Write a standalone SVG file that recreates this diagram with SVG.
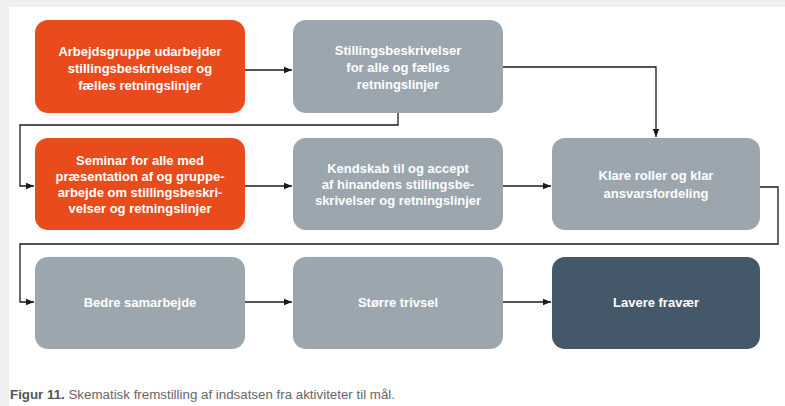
<svg xmlns="http://www.w3.org/2000/svg" width="785" height="406" viewBox="0 0 785 406">
  <defs>
    <marker id="ah" viewBox="0 0 10 10" refX="10" refY="5" markerWidth="8" markerHeight="8" markerUnits="userSpaceOnUse" orient="auto">
      <path d="M0,1 L10,5 L0,9 Z" fill="#1a1a1a"/>
    </marker>
    <style>
      .orange { fill: #ea4b1d; }
      .gray { fill: #9ba6af; }
      .dark { fill: #455869; }
      .t { font-family: "Liberation Sans", Arial, sans-serif; font-weight: bold; font-size: 13px; fill: #ffffff; text-anchor: middle; }
      .c { fill: none; stroke: #1a1a1a; stroke-width: 1.3; marker-end: url(#ah); }
      .cap { font-family: "Liberation Sans", Arial, sans-serif; font-size: 12.5px; fill: #666; }
    </style>
  </defs>
  <rect x="0" y="0" width="785" height="406" fill="#f1f0ee"/>
  <rect x="9" y="7" width="776" height="399" fill="#ffffff"/>

  <g id="connectors">
    <path class="c" d="M245,70 H292"/>
    <path class="c" d="M503,67 H656 V137"/>
    <path class="c" d="M398,113 V125 H20 V186 H34"/>
    <path class="c" d="M245,186 H292"/>
    <path class="c" d="M503,186 H551"/>
    <path class="c" d="M760,187 H778 V244 H20 V302 H34"/>
    <path class="c" d="M245,302 H292"/>
    <path class="c" d="M503,302 H551"/>
  </g>

  <g id="n1">
    <rect class="orange" x="35" y="20" width="210" height="93" rx="13"/>
    <text class="t" x="140" y="56">Arbejdsgruppe udarbejder</text>
    <text class="t" x="140" y="73">stillingsbeskrivelser og</text>
    <text class="t" x="140" y="90">fælles retningslinjer</text>
  </g>
  <g id="n2">
    <rect class="gray" x="293" y="20" width="210" height="93" rx="13"/>
    <text class="t" x="398" y="55">Stillingsbeskrivelser</text>
    <text class="t" x="398" y="72">for alle og fælles</text>
    <text class="t" x="398" y="89">retningslinjer</text>
  </g>
  <g id="n3">
    <rect class="orange" x="35" y="138" width="210" height="92" rx="13"/>
    <text class="t" x="140" y="165">Seminar for alle med</text>
    <text class="t" x="140" y="181">præsentation af og gruppe-</text>
    <text class="t" x="140" y="197">arbejde om stillingsbeskri-</text>
    <text class="t" x="140" y="213">velser og retningslinjer</text>
  </g>
  <g id="n4">
    <rect class="gray" x="293" y="138" width="210" height="92" rx="13"/>
    <text class="t" x="398" y="173">Kendskab til og accept</text>
    <text class="t" x="398" y="189">af hinandens stillingsbe-</text>
    <text class="t" x="398" y="205">skrivelser og retningslinjer</text>
  </g>
  <g id="n5">
    <rect class="gray" x="552" y="138" width="208" height="92" rx="13"/>
    <text class="t" x="656" y="180">Klare roller og klar</text>
    <text class="t" x="656" y="198">ansvarsfordeling</text>
  </g>
  <g id="n6">
    <rect class="gray" x="35" y="257" width="210" height="92" rx="13"/>
    <text class="t" x="140" y="307">Bedre samarbejde</text>
  </g>
  <g id="n7">
    <rect class="gray" x="293" y="257" width="210" height="92" rx="13"/>
    <text class="t" x="398" y="307">Større trivsel</text>
  </g>
  <g id="n8">
    <rect class="dark" x="552" y="257" width="208" height="92" rx="13"/>
    <text class="t" x="656" y="307">Lavere fravær</text>
  </g>

  <text class="cap" x="10" y="399" textLength="385" lengthAdjust="spacingAndGlyphs"><tspan font-weight="bold" fill="#555">Figur 11.</tspan> Skematisk fremstilling af indsatsen fra aktiviteter til mål.</text>
</svg>
